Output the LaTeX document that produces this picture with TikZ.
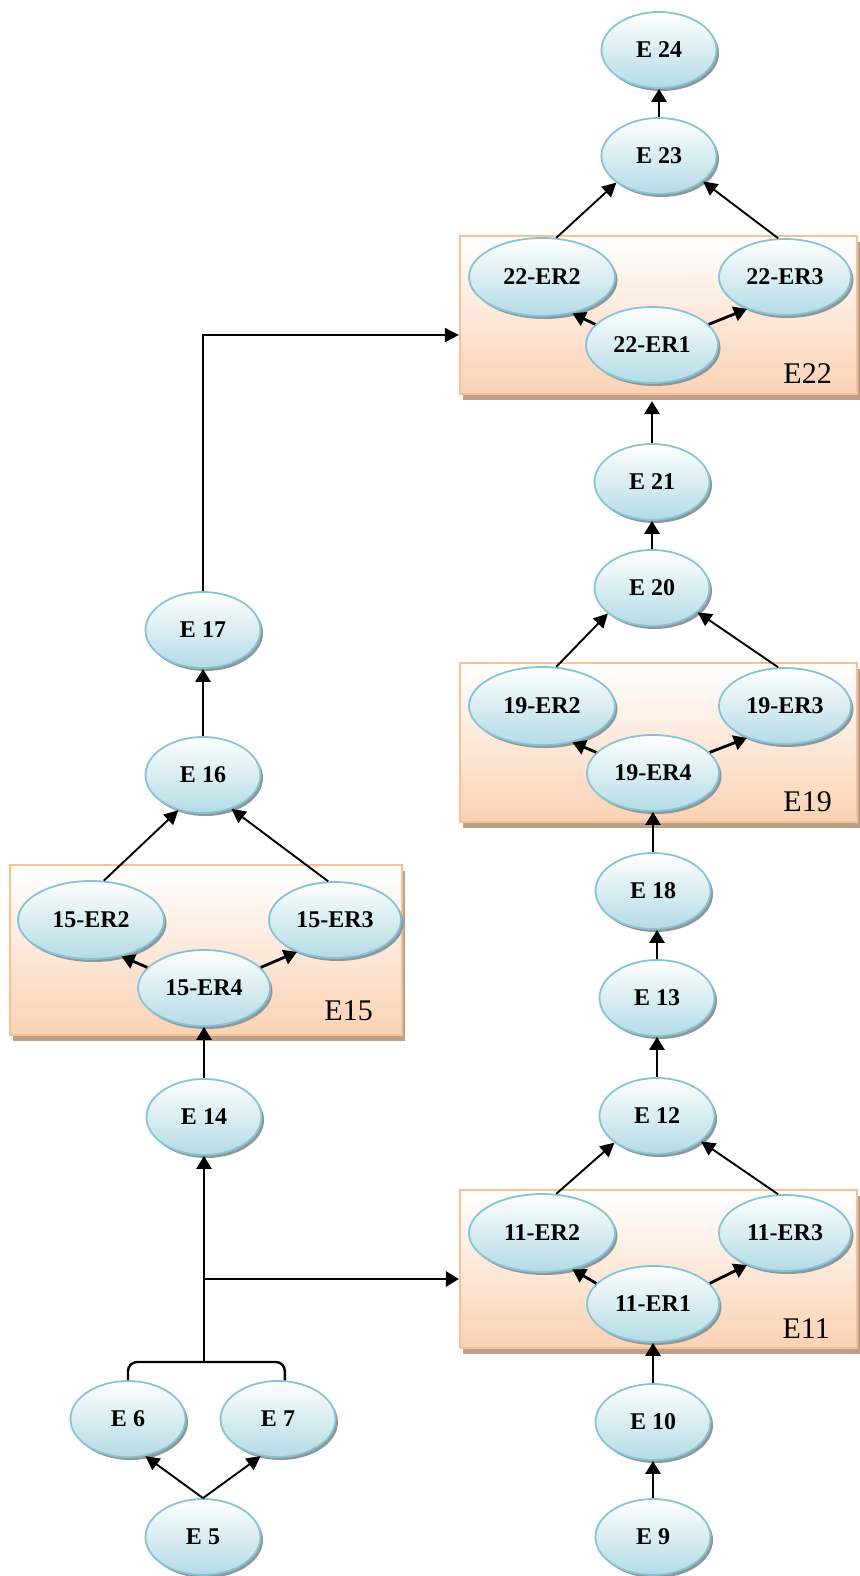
\documentclass[tikz,border=0pt]{standalone}
\usepackage{fontspec}
\setmainfont{Liberation Serif}
\usetikzlibrary{arrows.meta,shapes.geometric,shadows,calc}
\definecolor{evline}{RGB}{134,196,212}
\definecolor{evbot}{RGB}{180,219,230}
\definecolor{evshadow}{RGB}{140,152,156}
\definecolor{grpline}{RGB}{250,192,143}
\definecolor{grpbot}{RGB}{250,210,180}
\definecolor{grpshadow}{RGB}{190,160,138}

\begin{document}
\begin{tikzpicture}[
    x=1pt, y=-1pt,
    ev/.style={ellipse, draw=evline, line width=1.8pt, top color=white, bottom color=evbot,
               minimum width=115pt, minimum height=76pt, inner sep=0pt,
               font=\fontsize{24}{27}\selectfont\bfseries,
               drop shadow={shadow xshift=2.5pt, shadow yshift=-3pt, fill=evshadow, opacity=1}},
    erwide/.style={ev, minimum width=146pt, minimum height=78pt},
    ernarrow/.style={ev, minimum width=132pt, minimum height=76pt},
    grp/.style={rectangle, draw=grpline, line width=2.2pt, top color=white, bottom color=grpbot,
                drop shadow={shadow xshift=3pt, shadow yshift=-6pt, fill=grpshadow, opacity=1}},
    grplabel/.style={anchor=base east, inner sep=0pt, font=\fontsize{30}{34}\selectfont},
    arr/.style={line width=2.8pt, -{Triangle[length=13pt,width=15pt]}},
    thinarr/.style={line width=1.9pt, -{Triangle[length=14pt,width=14pt]}},
  ]
    \useasboundingbox (0,0) rectangle (859,1576);

    %% -- groups ---------------------------------------------
    \node[grp, minimum width=397pt, minimum height=158pt] (box22) at (658.5,315) {};
    \node[grp, minimum width=397pt, minimum height=159pt] (box19) at (658.5,742.5) {};
    \node[grp, minimum width=397pt, minimum height=158pt] (box11) at (658.5,1269) {};
    \node[grp, minimum width=392pt, minimum height=170pt] (box15) at (206,950) {};
    \node[grplabel] (lbl22) at (832,383)  {E22};
    \node[grplabel] (lbl19) at (832,811)  {E19};
    \node[grplabel] (lbl11) at (830,1338) {E11};
    \node[grplabel] (lbl15) at (373,1020) {E15};

    %% -- right column ---------------------------------------
    \node[ev]       (e24)    at (659,50)   {E 24};
    \node[ev]       (e23)    at (659,156)  {E 23};
    \node[erwide]   (er22-2) at (542,277)  {22-ER2};
    \node[ernarrow] (er22-3) at (785,277)  {22-ER3};
    \node[ernarrow] (er22-1) at (652,345)  {22-ER1};
    \node[ev]       (e21)    at (652,482)  {E 21};
    \node[ev]       (e20)    at (652,588)  {E 20};
    \node[erwide]   (er19-2) at (542,706)  {19-ER2};
    \node[ernarrow] (er19-3) at (785,706)  {19-ER3};
    \node[ernarrow] (er19-4) at (653,773)  {19-ER4};
    \node[ev]       (e18)    at (653,891)  {E 18};
    \node[ev]       (e13)    at (657,998)  {E 13};
    \node[ev]       (e12)    at (657,1116) {E 12};
    \node[erwide]   (er11-2) at (542,1233) {11-ER2};
    \node[ernarrow] (er11-3) at (785,1233) {11-ER3};
    \node[ernarrow] (er11-1) at (653,1304) {11-ER1};
    \node[ev]       (e10)    at (653,1422) {E 10};
    \node[ev]       (e9)     at (653,1537) {E 9};

    %% -- left column ----------------------------------------
    \node[ev]       (e17)    at (203,630)  {E 17};
    \node[ev]       (e16)    at (203,775)  {E 16};
    \node[erwide]   (er15-2) at (91,920)   {15-ER2};
    \node[ernarrow] (er15-3) at (335,920)  {15-ER3};
    \node[ernarrow] (er15-4) at (204,988)  {15-ER4};
    \node[ev]       (e14)    at (204,1117) {E 14};
    \node[ev]       (e6)     at (128,1419) {E 6};
    \node[ev]       (e7)     at (278,1419) {E 7};
    \node[ev]       (e5)     at (203,1537) {E 5};

    \coordinate (turn)  at (203,335);
    \coordinate (join)  at (204,1362);
    \coordinate (split) at (204,1279);

    %% -- arrows: right column -------------------------------
    \draw[arr] (e23) -- (e24);
    \draw[thinarr] (er22-2.70) -- (e23.212);
    \draw[thinarr] (er22-3.100) -- (e23.-30);
    \draw[arr] (er22-1.160) -- (er22-2.-50);
    \draw[arr] (er22-1.20) -- (er22-3.-140);
    \draw[arr] (e21) -- ($(e21 |- box22.south)+(0,6)$);
    \draw[arr] (e20) -- (e21);
    \draw[thinarr] (er19-2.70) -- (e20.210);
    \draw[thinarr] (er19-3.100) -- (e20.-28);
    \draw[arr] (er19-4.160) -- (er19-2.-50);
    \draw[arr] (er19-4.20) -- (er19-3.-140);
    \draw[arr] (e18) -- (er19-4);
    \draw[arr] (e13) -- (e13 |- e18.south);
    \draw[arr] (e12) -- (e13);
    \draw[thinarr] (er11-2.70) -- (e12.212);
    \draw[thinarr] (er11-3.100) -- (e12.-30);
    \draw[arr] (er11-1.160) -- (er11-2.-50);
    \draw[arr] (er11-1.20) -- (er11-3.-140);
    \draw[arr] (e10) -- (er11-1);
    \draw[arr] (e9) -- (e10);

    %% -- arrows: left column --------------------------------
    \draw[thinarr] (e17.north) -- (turn) -- (turn -| box22.west);
    \draw[arr] (e16) -- (e17);
    \draw[thinarr] (er15-2.72) -- (e16.235);
    \draw[thinarr] (er15-3.100) -- (e16.-50);
    \draw[arr] (er15-4.160) -- (er15-2.-50);
    \draw[arr] (er15-4.20) -- (er15-3.-140);
    \draw[arr] (e14) -- (er15-4);
    \draw[line width=2.4pt, rounded corners=9pt] (e6.north) |- (join) -| (e7.80);
    \draw[arr] (join) -- (e14);
    \draw[arr] (split) -- (split -| box11.west);
    \draw[thinarr] (e5.north) -- (e6.-65);
    \draw[thinarr] (e5.north) -- (e7.-115);

  \end{tikzpicture}
\end{document}
